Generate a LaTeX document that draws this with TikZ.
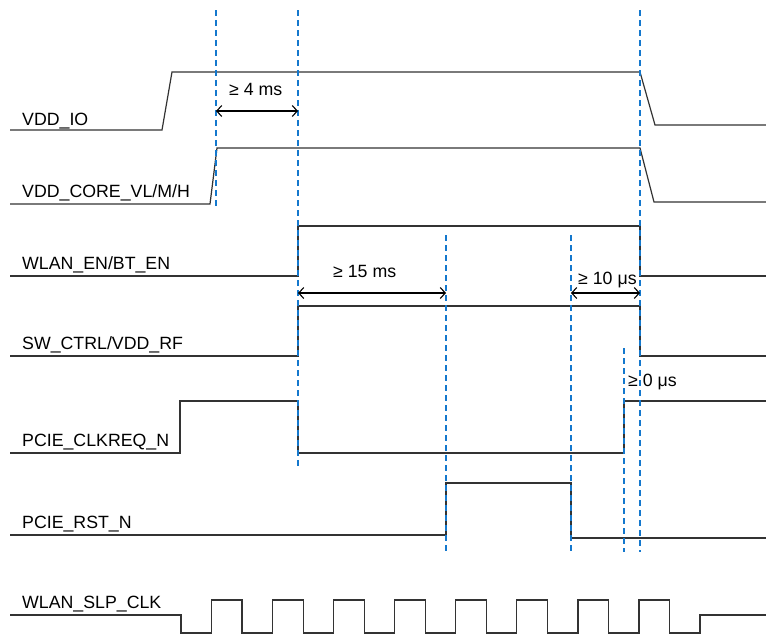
\documentclass[tikz,border=0pt]{standalone}
\usepackage{fontspec}
\setmainfont{Liberation Sans}
\usetikzlibrary{arrows.meta}
\definecolor{dashblue}{RGB}{20,120,205}
\begin{document}
\begin{tikzpicture}[x=1pt,y=-1pt,
  sig/.style={line width=1.2pt, draw=black!80, line join=miter},
  guide/.style={line width=1.1pt, draw=dashblue, dash pattern=on 6pt off 4pt},
  dimarrow/.style={line width=1.1pt, draw=black, {Straight Barb[length=5pt,width=11pt]}-{Straight Barb[length=5pt,width=11pt]}},
  lbl/.style={anchor=base west, inner sep=0pt, font=\fontsize{17.75}{20}\selectfont}]
\useasboundingbox (0,0) rectangle (766,635);

% signal labels
\node[lbl] (lio)   at (22,125) {VDD\_IO};
\node[lbl] (lcore) at (22,197) {VDD\_CORE\_VL/M/H};
\node[lbl] (len)   at (22,269) {WLAN\_EN/BT\_EN};
\node[lbl] (lsw)   at (22,349) {SW\_CTRL/VDD\_RF};
\node[lbl] (lclk)  at (22,446) {PCIE\_CLKREQ\_N};
\node[lbl] (lrst)  at (22,528) {PCIE\_RST\_N};
\node[lbl] (lslp)  at (22,608) {WLAN\_SLP\_CLK};

% waveforms
\draw[sig] (10,130) -- (162,130) -- (172,72) -- (640,72) -- (655,125) -- (766,125);
\draw[sig] (10,204) -- (210,204) -- (217,148) -- (640,148) -- (654,202) -- (766,202);
\draw[sig] (10,276) -| (298,226) -| (640,276) -- (766,276);
\draw[sig] (10,356) -| (298,306) -| (640,356) -- (766,356);
\draw[sig] (10,453) -| (180,401) -| (298,453) -| (624,401) -- (766,401);
\draw[sig] (10,535) -| (446,483) -| (571,538) -- (766,538);
\draw[sig] (10,615) -| (181,633) -| (211.5,600) -| (242,633) -| (272.6,600)
  -| (303.1,633) -| (333.7,600) -| (364.2,633) -| (394.7,600) -| (425.2,633)
  -| (455.8,600) -| (486.3,633) -| (516.8,600) -| (547.4,633) -| (577.9,600)
  -| (608.4,633) -| (639,600) -| (669.5,633) -| (700,615) -- (766,615);

% guide lines
\coordinate (g1t) at (216,10);  \coordinate (g1b) at (216,208);
\coordinate (g2t) at (298,10);  \coordinate (g2b) at (298,466);
\coordinate (g3t) at (446,235); \coordinate (g3b) at (446,552);
\coordinate (g4t) at (571,235); \coordinate (g4b) at (571,552);
\coordinate (g5t) at (624,348); \coordinate (g5b) at (624,552);
\coordinate (g6t) at (640,10);  \coordinate (g6b) at (640,552);
\foreach \g in {1,...,6} \draw[guide] (g\g t) -- (g\g b);

% dimension arrows
\coordinate (d1a) at (216,111); \coordinate (d1b) at (298,111);
\coordinate (d2a) at (298,293); \coordinate (d2b) at (446,293);
\coordinate (d3a) at (571,293); \coordinate (d3b) at (640,293);
\draw[dimarrow] (d1a) -- (d1b);
\draw[dimarrow] (d2a) -- (d2b);
\draw[dimarrow] (d3a) -- (d3b);

\node[lbl] (t1) at (229,95)  {≥ 4 ms};
\node[lbl] (t2) at (333,277) {≥ 15 ms};
\node[lbl] (t3) at (578,284) {≥ 10 μs};
\node[lbl] (t4) at (628,386) {≥ 0 μs};
\end{tikzpicture}
\end{document}
